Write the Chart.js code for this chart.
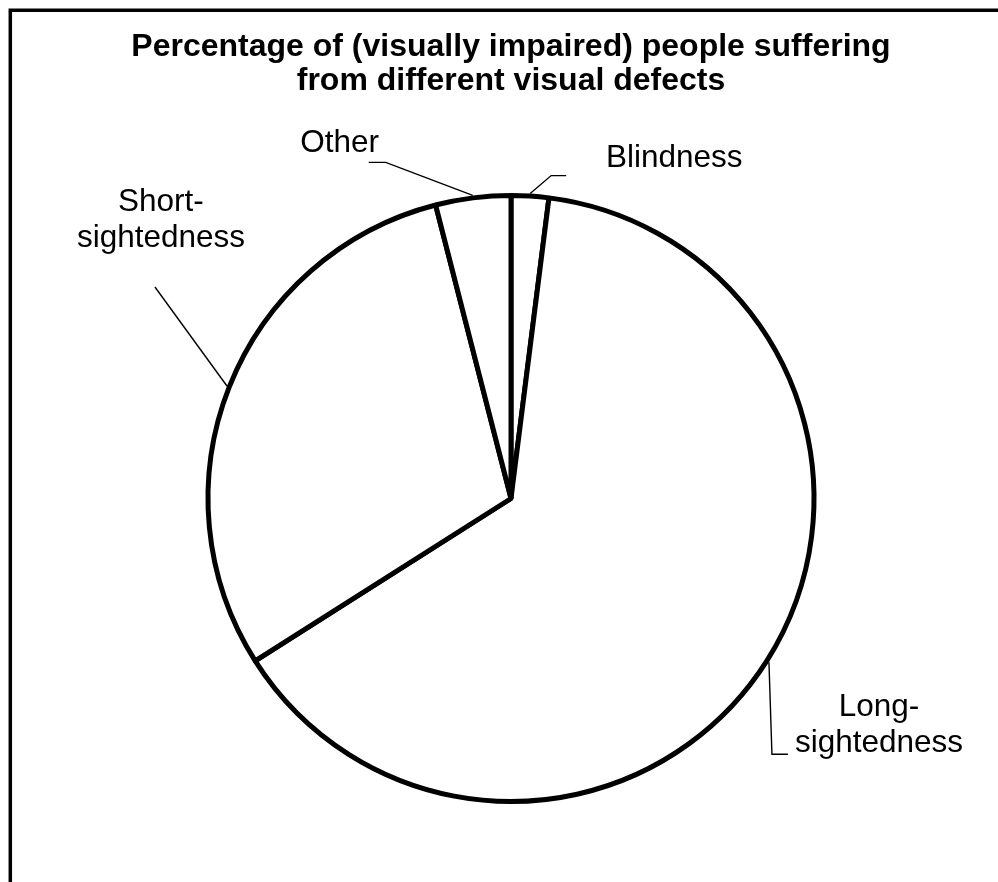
<!DOCTYPE html>
<html>
<head>
<meta charset="utf-8">
<title>Visual defects</title>
<script src="https://cdn.jsdelivr.net/npm/chart.js@4.4.1/dist/chart.umd.min.js"></script>
<style>
    html, body { margin: 0; padding: 0; background: #fff; }
    canvas { display: block; }
</style>
</head>
<body>
<canvas id="pieChart" width="998" height="882"></canvas>
<script>
// Datos del gráfico (en %)
const categories = ['Blindness', 'Long-sightedness', 'Short-sightedness', 'Other'];
const shares = [2, 64, 30, 4];
const labelLines = [
    ['Blindness'],
    ['Long-', 'sightedness'],
    ['Short-', 'sightedness'],
    ['Other']
];
const titleLines = [
    'Percentage of (visually impaired) people suffering',
    'from different visual defects'
];

const FONT = 'Arial, "Liberation Sans", sans-serif';

// Estilo de las etiquetas: tramos de la línea guía y posición del texto,
// relativos al punto medio del arco de cada porción
const labelStyle = [
    { leader: [[21, -18], [36, -18]], text: [144, -27], align: 'center' },
    { leader: [[3, 92], [19, 92]], text: [110, 54], align: 'center' },
    { leader: [[-72, -99]], text: [-66, -175], align: 'center' },
    { leader: [[-87, -33], [-104, -33]], text: [-133, -43], align: 'center' }
];

/**
 * Marco exterior (solo se ven los bordes superior e izquierdo)
 */
const framePlugin = {
    id: 'frame',
    beforeDraw(chart) {
        const ctx = chart.ctx;
        ctx.save();
        ctx.fillStyle = '#fff';
        ctx.fillRect(0, 0, chart.width, chart.height);
        ctx.strokeStyle = '#000';
        ctx.lineWidth = 3.5;
        ctx.beginPath();
        ctx.moveTo(10.3, chart.height + 5);
        ctx.lineTo(10.3, 10.3);
        ctx.lineTo(chart.width + 5, 10.3);
        ctx.stroke();
        ctx.restore();
    }
};

/**
 * Etiquetas con líneas guía
 */
const leaderLabelsPlugin = {
    id: 'leaderLabels',
    afterDatasetsDraw(chart) {
        const ctx = chart.ctx;
        const meta = chart.getDatasetMeta(0);
        ctx.save();
        ctx.strokeStyle = '#000';
        ctx.fillStyle = '#000';
        ctx.lineWidth = 1.4;
        ctx.font = '31.5px ' + FONT;
        ctx.textBaseline = 'alphabetic';

        meta.data.forEach((arc, i) => {
            const style = labelStyle[i];
            const bw = arc.options.borderWidth;
            const mid = (arc.startAngle + arc.endAngle) / 2;
            const r = arc.outerRadius + bw / 2;
            const ax = arc.x + Math.cos(mid) * r;
            const ay = arc.y + Math.sin(mid) * r;

            ctx.beginPath();
            ctx.moveTo(ax, ay);
            style.leader.forEach(p => ctx.lineTo(ax + p[0], ay + p[1]));
            ctx.stroke();

            ctx.textAlign = style.align;
            labelLines[i].forEach((line, k) => {
                ctx.fillText(line, ax + style.text[0], ay + style.text[1] + k * 36.3);
            });
        });
        ctx.restore();
    }
};

new Chart(document.getElementById('pieChart'), {
    type: 'pie',
    data: {
        labels: categories,
        datasets: [{
            data: shares,
            backgroundColor: '#ffffff',
            borderColor: '#000000',
            borderWidth: 5,
            hoverOffset: 0
        }]
    },
    options: {
        responsive: false,
        animation: false,
        devicePixelRatio: 1,
        radius: 303,
        layout: {
            padding: { left: 24, right: 0, top: 0, bottom: 0 }
        },
        plugins: {
            legend: { display: false },
            tooltip: { enabled: false },
            title: {
                display: true,
                text: titleLines,
                color: '#000',
                font: { family: FONT, size: 32, weight: 'bold', lineHeight: 1.07 },
                padding: { top: 30, bottom: 16.5 }
            }
        }
    },
    plugins: [framePlugin, leaderLabelsPlugin]
});
</script>
</body>
</html>
